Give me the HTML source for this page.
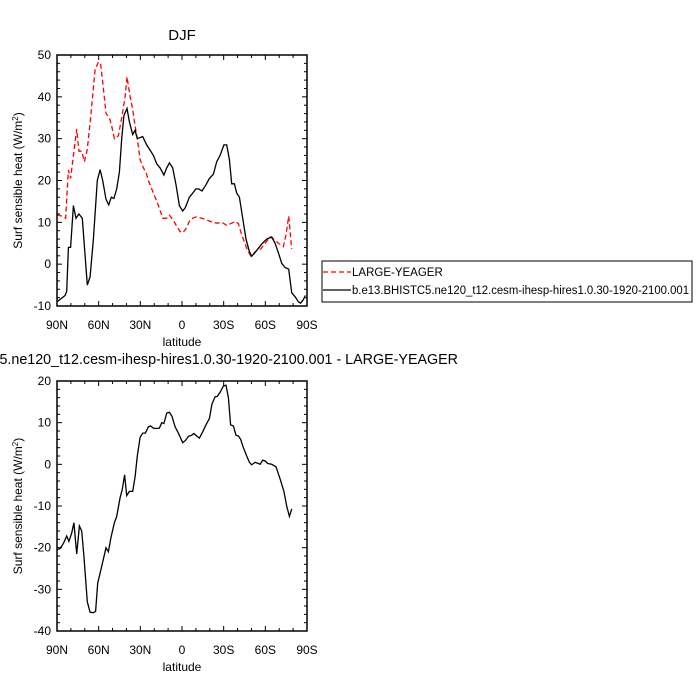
<!DOCTYPE html>
<html><head><meta charset="utf-8"><style>
html,body{margin:0;padding:0;background:#fff;}
svg{display:block;font-family:"Liberation Sans",sans-serif;}
</style></head><body>
<svg id="chart" width="700" height="700" viewBox="0 0 700 700">
<text x="182" y="40" font-size="15" text-anchor="middle">DJF</text>
<text x="458" y="364" font-size="14.3" text-anchor="end">b.e13.BHISTC5.ne120_t12.cesm-ihesp-hires1.0.30-1920-2100.001 - LARGE-YEAGER</text>
<g id="legend">
<rect x="322" y="261" width="370" height="41" fill="#fff" stroke="#000" stroke-width="1"/>
<line x1="323" y1="272" x2="351" y2="272" stroke="#ff0000" stroke-width="1.2" stroke-dasharray="5,3"/>
<text x="352" y="276" font-size="11.5">LARGE-YEAGER</text>
<line x1="323" y1="290" x2="351" y2="290" stroke="#000" stroke-width="1.2"/>
<text x="352" y="294" font-size="11.5" textLength="337" lengthAdjust="spacingAndGlyphs">b.e13.BHISTC5.ne120_t12.cesm-ihesp-hires1.0.30-1920-2100.001</text>
</g>
</svg>
<script>
// Top panel data
const modelLat = [90,84.2,83.0,81.8,80.2,78.2,76.3,74.2,71.8,68.2,66.2,63.8,61.0,59.0,57.1,54.7,52.8,50.9,49.0,47.0,45.1,43.4,41.8,39.6,37.9,35.5,33.8,32.2,30.7,28.3,25.4,20.6,18.2,15.8,13.0,11.0,9.1,6.7,4.3,1.9,-0.5,-2.4,-5.3,-7.7,-10.1,-12.0,-14.4,-17.3,-19.7,-22.6,-25.0,-27.4,-30.2,-32.2,-34.1,-35.8,-37.7,-39.4,-41.3,-43.7,-46.1,-48.5,-50.2,-52.6,-55.0,-57.4,-61.0,-64.6,-67.0,-69.6,-71.8,-74.2,-76.8,-79.0,-81.4,-83.8,-85.4,-87.4,-88.8];
const modelVal = [-9,-7.5,-6.5,4,4,14,11,12,11,-5,-3,6,20,22.6,20,15.5,14.2,16,15.7,18,22,30,35.5,37.2,34,31,32,30,30.2,30.5,28.5,26,24,23,21.3,23,24.2,23,19,14,12.7,13.5,16,17,18,18,17.5,19,20.5,21.5,24.5,26,28.5,28.5,25,19.2,19.2,17,16,11,6,3,1.9,2.8,3.8,4.8,6,6.5,5,2.5,0.2,-0.8,-1.2,-6.8,-7.8,-9,-9.3,-8.5,-7.5];
const obsLat = [90,86.6,83.8,81.8,80.2,78.2,75.8,74.2,72.2,70.3,68.2,65.8,62.6,60.2,58.6,56.6,54.7,52.3,50.6,48.7,45.8,43.4,41.0,39.6,37.4,35.5,33.8,32.2,30.2,27.8,25.9,24.2,21.8,19.4,17.0,13.9,11.0,9.1,6.2,3.8,1.4,-0.5,-2.9,-5.3,-7.7,-10.1,-14.2,-17.3,-20.2,-25.0,-28.6,-32.2,-35.8,-38.2,-40.6,-43.0,-46.6,-49.4,-51.4,-53.8,-56.6,-59.8,-63.4,-66.2,-69.4,-73.0,-74.9,-76.8,-79.0];
const obsVal = [11.8,11.5,11,22.5,20.5,26,32.3,27,27,24.5,27.5,35,46.5,48.3,48,42,36,35,33,30,30.7,35,40,44.8,40,37,33,30,25,23,22,20,18,16,14,11,11,11.7,10.5,9,7.8,7.5,8.5,10.3,11,11.3,11,10.7,10.2,9.8,10,9.3,9.8,10.2,9.7,7,3.8,2,2.5,3.3,3.6,5,6.5,6,5,4.2,7,11.5,3.6];
// Bottom panel data (model - obs)
const diffLat = [90,87.8,85.4,83.0,81.4,79.4,77.8,75.8,73.9,72.2,70.6,68.2,66.2,63.8,62.2,60.7,57.8,54.7,53.0,51.1,48.7,47.0,44.6,43.0,41.3,39.8,37.9,35.5,33.8,32.2,30.2,28.3,26.4,24.2,22.6,20.6,18.7,16.3,14.6,13.0,11.0,9.1,7.2,5.0,2.6,-0.5,-2.4,-4.6,-7.0,-8.6,-10.6,-12.5,-14.9,-17.3,-19.7,-21.6,-23.8,-25.4,-27.4,-29.8,-31.7,-33.4,-35.0,-37.0,-38.9,-40.6,-42.2,-44.2,-46.6,-48.5,-50.2,-52.6,-55.0,-56.2,-58.1,-60.0,-61.7,-64.6,-67.7,-70.6,-73.4,-75.4,-77.3,-79.0];
const diffVal = [-20.5,-20.2,-19,-17.2,-18.5,-16.5,-14,-21.5,-14.8,-16,-22,-33,-35.5,-35.6,-35.3,-28.5,-24.5,-20,-21,-17.5,-14,-12.5,-8,-6,-2.5,-7.5,-6.5,-6.5,-3,2,6.5,7.5,7.5,9,9.2,8.7,8.6,8.7,10,9.8,12.3,12.5,11.5,9,7.5,5.2,5.7,6.7,7,7.4,6.8,6.3,7.8,9.5,11,14.5,16.2,16.3,17.3,18.8,19,16,9.5,9.2,7,6.8,6,4,2,0.5,-0.1,0.5,0.2,0,1,0.8,0.2,0,-0.6,-3.5,-6.5,-10,-12.5,-10.7];
const xTickVals = [90,60,30,0,-30,-60,-90];
const xTickLabels = ["90N","60N","30N","0","30S","60S","90S"];
const topYTicks = [50,40,30,20,10,0,-10];
const botYTicks = [20,10,0,-10,-20,-30,-40];

const NS = "http://www.w3.org/2000/svg";
const svg = document.getElementById("chart");
function mk(tag, attrs, parent){const e=document.createElementNS(NS,tag);for(const k in attrs)e.setAttribute(k,attrs[k]);(parent||svg).appendChild(e);return e;}

function panel(prefix, top, bottom, ymin, ymax, yTicks){
  const L=57,R=307;
  const xs = lat => L + (90-lat)/180*(R-L);
  const ys = v => bottom - (v-ymin)/(ymax-ymin)*(bottom-top);
  const g = mk("g",{});
  
  
  for(let lat=-90;lat<=90;lat+=10){
    const x=xs(lat), major = lat%30===0, len = major?5:3;
    const t1=mk("line",{x1:x,y1:bottom,x2:x,y2:bottom-len,stroke:"#000","stroke-width":1},g);
    
    
    const t2=mk("line",{x1:x,y1:top,x2:x,y2:top+len,stroke:"#000","stroke-width":1},g);
    
    
  }
  for(let v=ymin;v<=ymax+1e-6;v+=2){
    const y=ys(v), major = Math.abs(v%10)<1e-6, len = major?5:3;
    const t1=mk("line",{x1:L,y1:y,x2:L+len,y2:y,stroke:"#000","stroke-width":1},g);
    
    
    const t2=mk("line",{x1:R,y1:y,x2:R-len,y2:y,stroke:"#000","stroke-width":1},g);
    
    
  }
  xTickVals.forEach((lat,i)=>{
    const t=mk("text",{x:xs(lat),y:bottom+23,"font-size":12,"text-anchor":"middle"},g);
    t.textContent=xTickLabels[i];
    
    
  });
  yTicks.forEach(v=>{
    const t=mk("text",{x:L-6,y:ys(v)+4,"font-size":12,"text-anchor":"end"},g);
    t.textContent=String(v);
    
    
  });
  const xl=mk("text",{x:(L+R)/2,y:bottom+40,"font-size":12,"text-anchor":"middle"},g);
  xl.textContent="latitude";
  
  
  const cy=(top+bottom)/2;
  const yl=mk("text",{x:0,y:0,"font-size":12,"text-anchor":"middle",transform:`translate(22,${cy}) rotate(-90)`},g);
  yl.innerHTML='Surf sensible heat (W/m<tspan baseline-shift="super" font-size="8">2</tspan>)';
  
  
  return {xs,ys,g,L,R,top,bottom};
}
function line(p, lats, vals, color, dash, name){
  const d = lats.map((la,i)=>(i?"L":"M")+p.xs(la).toFixed(1)+","+p.ys(vals[i]).toFixed(1)).join("");
  const a={d,fill:"none",stroke:color,"stroke-width":1.3};
  if(dash)a["stroke-dasharray"]=dash;
  const e=mk("path",a,p.g);
  
  
}
function frame(p,prefix){
  const f=mk("rect",{x:p.L,y:p.top,width:p.R-p.L,height:p.bottom-p.top,fill:"none",stroke:"#000","stroke-width":1.5},p.g);
  
  
}
const P1 = panel("top",55,306,-10,50,topYTicks);
line(P1, obsLat, obsVal, "#ff0000", "5,3", "large-yeager-line");
line(P1, modelLat, modelVal, "#000", null, "model-line");
frame(P1,"top");
const P2 = panel("bottom",381,631,-40,20,botYTicks);
line(P2, diffLat, diffVal, "#000", null, "difference-line");
frame(P2,"bottom");
</script>
</body></html>
